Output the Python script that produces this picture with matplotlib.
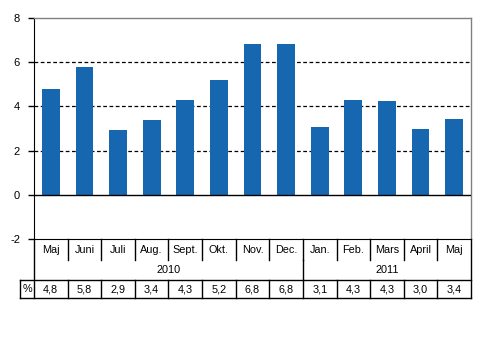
import matplotlib
matplotlib.use("Agg")
import matplotlib.pyplot as plt
import matplotlib.transforms as mtransforms

months = ["Maj", "Juni", "Juli", "Aug.", "Sept.", "Okt.", "Nov.", "Dec.",
          "Jan.", "Feb.", "Mars", "April", "Maj"]
values = [4.78, 5.78, 2.92, 3.38, 4.28, 5.2, 6.82, 6.82, 3.08, 4.28, 4.23, 2.98, 3.45]
table_labels = ["4,8", "5,8", "2,9", "3,4", "4,3", "5,2", "6,8", "6,8",
                "3,1", "4,3", "4,3", "3,0", "3,4"]
years = ["2010", "2011"]
year_split = 8  # index where 2011 starts

plt.rcParams['font.family'] = ['Liberation Sans', 'DejaVu Sans']
plt.rcParams['axes.unicode_minus'] = False
fs = 7.8

fig = plt.figure(figsize=(4.93, 3.46), dpi=100)
ax = fig.add_axes([34 / 493, 1 - 239 / 346, (471 - 34) / 493, (239 - 18) / 346])

x = list(range(len(months)))
ax.bar(x, values, width=0.53, color="#1767B0", zorder=3)
ax.set_xlim(-0.5, len(months) - 0.5)
ax.set_ylim(-2, 8)
ax.set_yticks([-2, 0, 2, 4, 6, 8])
ax.set_xticks([])
ax.tick_params(axis="y", length=4, width=1, labelsize=8, pad=6)

for yv in [2, 4, 6]:
    ax.axhline(yv, color="black", lw=0.9, ls=(0, (3, 2)), zorder=1)
ax.axhline(0, color="black", lw=1, zorder=4)

for s in ["top", "right"]:
    ax.spines[s].set_color("#808080")
    ax.spines[s].set_linewidth(1)
ax.spines["left"].set_color("black")
ax.spines["bottom"].set_color("black")

# table below the axes
tr = mtransforms.blended_transform_factory(ax.transData, ax.transAxes)
y_cat = -21 / 221
y_row_top = -41 / 221
y_row_bot = -59 / 221
left_cell = -0.5 - 14 / 33.6
n = len(months)

def line(xs, ys, color="black"):
    ax.plot(xs, ys, color=color, lw=1, transform=tr, clip_on=False, zorder=5)

# verticals between month labels
for k in range(1, n):
    line([k - 0.5, k - 0.5], [0, y_cat])
    line([k - 0.5, k - 0.5], [y_row_top, y_row_bot])
line([year_split - 0.5, year_split - 0.5], [y_cat, y_row_top])
line([-0.5, -0.5], [0, y_row_bot])
line([n - 0.5, n - 0.5], [0, y_row_bot])
line([left_cell, left_cell], [y_row_top, y_row_bot])
line([left_cell, n - 0.5], [y_row_top, y_row_top])
line([left_cell, n - 0.5], [y_row_bot, y_row_bot])

for i, m in enumerate(months):
    ax.text(i, -11 / 221, m, ha="center", va="center", fontsize=fs, transform=tr)
    ax.text(i, -50 / 221, table_labels[i], ha="center", va="center", fontsize=fs, transform=tr)

ax.text((year_split - 1) / 2, -31 / 221, years[0], ha="center", va="center", fontsize=fs, transform=tr)
ax.text((year_split + n - 1) / 2, -31 / 221, years[1], ha="center", va="center", fontsize=fs, transform=tr)
ax.text((left_cell - 0.5) / 2, -50 / 221, "%", ha="center", va="center", fontsize=fs, transform=tr)

fig.savefig("out.png", dpi=100)
